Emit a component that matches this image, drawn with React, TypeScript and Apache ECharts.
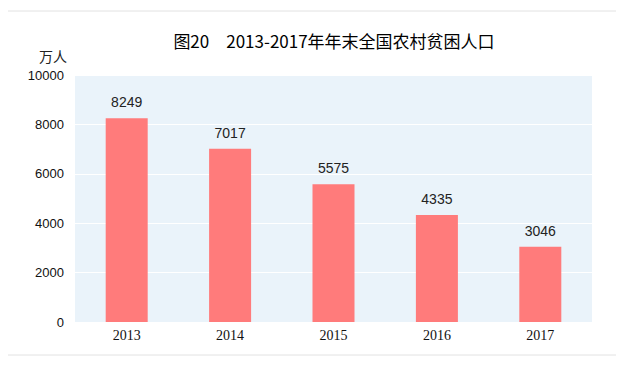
import React, { useEffect, useRef } from "react";
import * as echarts from "echarts";

const categories = ["2013", "2014", "2015", "2016", "2017"];
const values = [8249, 7017, 5575, 4335, 3046];
const titleText = "图20　2013-2017年年末全国农村贫困人口";
const unitText = "万人";

export default function App() {
  const ref = useRef<HTMLDivElement>(null);
  useEffect(() => {
    if (!ref.current) return;
    const chart = echarts.init(ref.current, undefined, { renderer: "svg" });
    chart.setOption({
      animation: false,
      backgroundColor: "#ffffff",
      grid: {
        left: 75,
        right: 33,
        top: 75,
        bottom: 50,
        show: true,
        backgroundColor: "#eaf3fa",
        borderWidth: 0,
      },
      graphic: [
        {
          type: "line",
          shape: { x1: 8, y1: 11, x2: 616, y2: 11 },
          style: { stroke: "#e2e2e2", lineWidth: 1 },
        },
        {
          type: "line",
          shape: { x1: 8, y1: 355, x2: 616, y2: 355 },
          style: { stroke: "#e2e2e2", lineWidth: 1 },
        },
        {
          type: "text",
          x: 334,
          y: 40,
          style: {
            text: titleText,
            fontSize: 17,
            fontWeight: "normal",
            fontFamily: "Noto Sans CJK SC",
            fill: "#000",
            align: "center",
            verticalAlign: "middle",
          },
        },
        {
          type: "text",
          x: 67,
          y: 56,
          style: {
            text: unitText,
            fontSize: 14,
            fontFamily: "Noto Sans CJK SC",
            fill: "#222",
            align: "right",
            verticalAlign: "middle",
          },
        },
      ],
      xAxis: {
        type: "category",
        data: categories,
        axisLine: { show: false },
        axisTick: { show: false },
        axisLabel: {
          color: "#111",
          fontSize: 14,
          fontFamily: "Liberation Serif",
          margin: 6,
        },
      },
      yAxis: {
        type: "value",
        min: 0,
        max: 10000,
        interval: 2000,
        axisLine: { show: false },
        axisTick: { show: false },
        axisLabel: {
          color: "#111",
          fontSize: 13,
          fontFamily: "Liberation Sans",
          margin: 11,
          formatter: (v: number) => String(v),
        },
        splitLine: { show: true, lineStyle: { color: "#ffffff", width: 1 } },
      },
      series: [
        {
          type: "bar",
          data: values,
          barWidth: 42,
          itemStyle: { color: "#ff7b7b" },
          label: {
            show: true,
            position: "top",
            distance: 9,
            color: "#222",
            fontSize: 14,
            fontFamily: "Liberation Sans",
          },
        },
      ],
    });
    return () => chart.dispose();
  }, []);
  return (
    <div
      ref={ref}
      style={{ position: "fixed", left: 0, top: 0, width: 625, height: 372 }}
    />
  );
}
